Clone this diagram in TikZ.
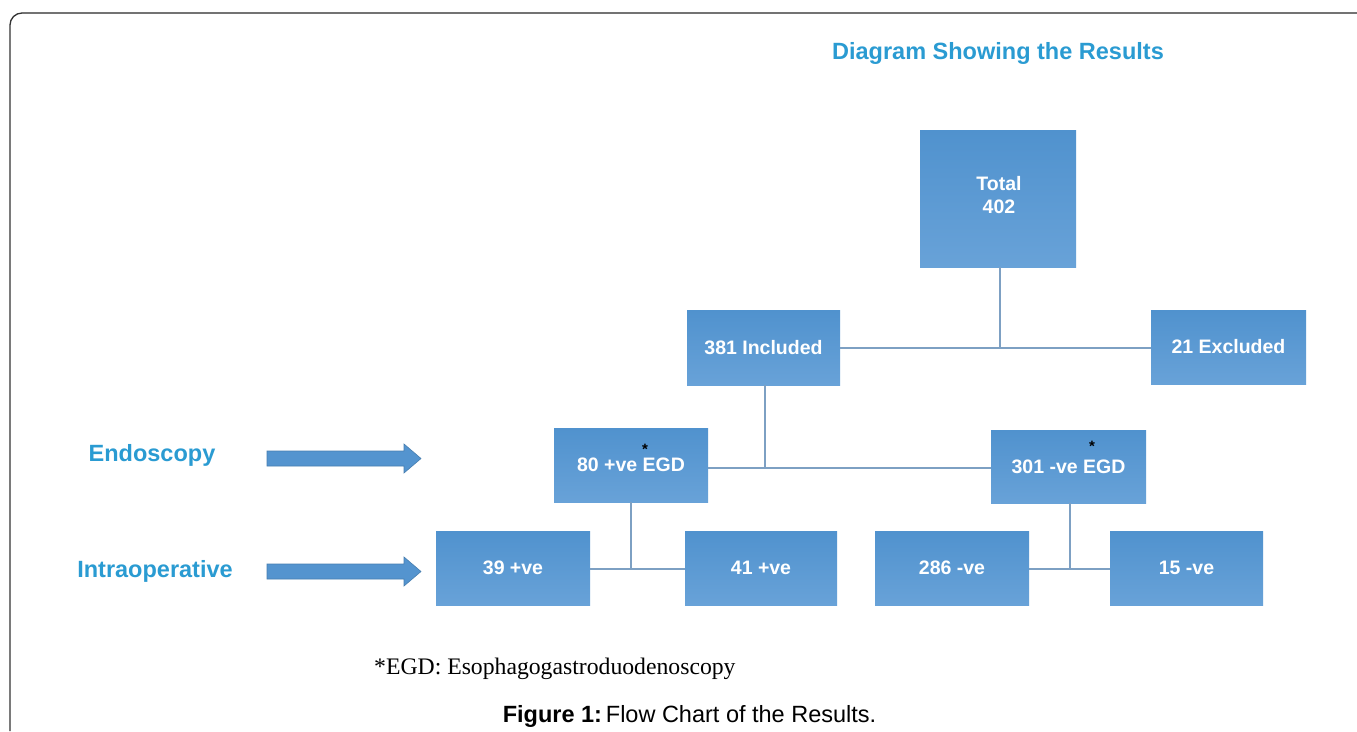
\documentclass[tikz,border=0pt]{standalone}
\usepackage{fontspec}
\setmainfont{Liberation Serif}
\setsansfont{Liberation Sans}
\definecolor{boxtop}{RGB}{80,146,206}
\definecolor{boxbot}{RGB}{104,162,216}
\definecolor{linec}{RGB}{125,160,195}
\definecolor{labc}{RGB}{42,155,210}
\definecolor{arrc}{RGB}{84,148,207}
\tikzset{
  bxtext/.style={text=white, font=\sffamily\bfseries\fontsize{19.5}{23}\selectfont, align=center, inner sep=0pt},
  bx/.style={rectangle, bxtext, top color=boxtop, bottom color=boxbot, draw=none},
  conn/.style={draw=linec, line width=2pt},
  lab/.style={text=labc, font=\sffamily\bfseries\fontsize{23.5}{26}\selectfont, inner sep=0pt},
  ast/.style={font=\sffamily\bfseries\fontsize{15}{15}\selectfont, inner sep=0pt}
}
\begin{document}
\begin{tikzpicture}[x=1pt,y=-1pt]
\useasboundingbox[fill=white] (0,0) rectangle (1357,731);
% frame
\draw[draw=black!80, line width=1.3pt] (10,731) -- (10,25) arc[start angle=180,end angle=270,radius=12];
\draw[draw=black!55, line width=1.3pt] (22,13) -- (1357,13);
% title
\node[lab] (title) at (998,53) {Diagram Showing the Results};
% boxes
\node[bx, minimum width=156pt, minimum height=137pt] (total) at (998,198.5) {};
\node[bxtext] (totaltxt) at (999,195) {Total\\402};
\node[bx, minimum width=153pt, minimum height=75pt] (inc) at (763.5,347.5) {381 Included};
\node[bx, minimum width=155pt, minimum height=74pt] (exc) at (1228.5,347) {21 Excluded};
\node[bx, minimum width=154pt, minimum height=74pt] (pos) at (631,465) {80 +ve EGD};
\node[bx, minimum width=155pt, minimum height=73pt] (neg) at (1068.5,466.5) {301 -ve EGD};
\node[bx, minimum width=154pt, minimum height=74pt] (p39) at (513,568) {39 +ve};
\node[bx, minimum width=152pt, minimum height=74pt] (p41) at (761,568) {41 +ve};
\node[bx, minimum width=154pt, minimum height=74pt] (n286) at (952,568) {286 -ve};
\node[bx, minimum width=153pt, minimum height=74pt] (n15) at (1186.5,568) {15 -ve};
\node[ast] (a1) at (645,449) {*};
\node[ast] (a2) at (1092,446) {*};
% connectors
\coordinate (j1) at (1000,348);
\draw[conn] (total.south -| j1) -- (j1);
\draw[conn] (inc.east |- j1) -- (exc.west |- j1);
\coordinate (j2) at (765,468);
\draw[conn] (inc.south -| j2) -- (j2);
\draw[conn] (pos.east |- j2) -- (neg.west |- j2);
\coordinate (j3) at (631,569);
\draw[conn] (pos.south -| j3) -- (j3);
\draw[conn] (p39.east |- j3) -- (p41.west |- j3);
\coordinate (j4) at (1070,569);
\draw[conn] (neg.south -| j4) -- (j4);
\draw[conn] (n286.east |- j4) -- (n15.west |- j4);
% side labels and arrows
\node[lab] (endo) at (152,455) {Endoscopy};
\node[lab] (intra) at (155,571) {Intraoperative};
\draw[fill=arrc, draw=arrc!85!black, line width=0.6pt]
  (267,451) -- (404,451) -- (404,444) -- (421,458.5) -- (404,473) -- (404,466) -- (267,466) -- cycle;
\draw[fill=arrc, draw=arrc!85!black, line width=0.6pt]
  (267,564) -- (404,564) -- (404,557) -- (421,571.5) -- (404,586) -- (404,579) -- (267,579) -- cycle;
% footnote and caption
\node[anchor=west, inner sep=0pt, font=\fontsize{23.7}{26}\selectfont] (foot) at (374,669) {*EGD: Esophagogastroduodenoscopy};
\node[inner sep=0pt, font=\sffamily\fontsize{23.5}{26}\selectfont] (cap) at (689.5,716) {\textbf{Figure 1:}\,Flow Chart of the Results.};
\end{tikzpicture}
\end{document}
